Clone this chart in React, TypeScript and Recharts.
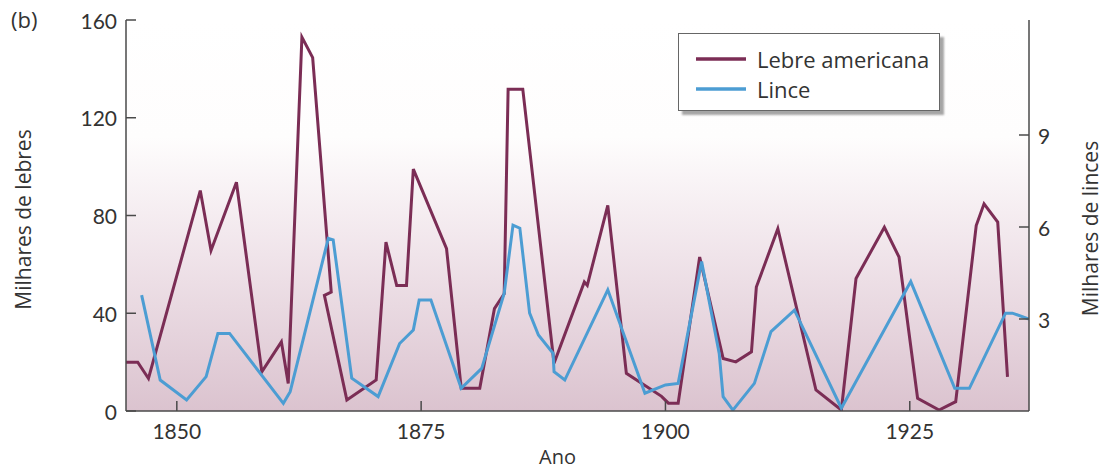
import * as React from 'react'
import { LineChart, Line, XAxis, YAxis, CartesianGrid, Legend, Label } from 'recharts'

// hare counts (thousands)
const hareYears = [
  1844.8, 1846, 1847.1, 1852.4, 1853.5, 1856.1, 1858.7, 1860.7, 1861.4, 1862.8, 1863.9,
  1865.8, 1865.1, 1867.4, 1870.4, 1871.4, 1872.5, 1873.5, 1874.2, 1877.6, 1879.1, 1881,
  1882.5, 1883.5, 1883.9, 1885.4, 1888.6, 1891.7, 1892, 1894.1, 1896, 1899.6, 1900.3,
  1901.3, 1903.5, 1905.9, 1907.2, 1908.8, 1909.3, 1911.5, 1915.4, 1918, 1919.5, 1922.4,
  1923.9, 1925.8, 1928, 1929.7, 1931.8, 1932.6, 1934, 1935,
]
const hareValues = [
  20, 20, 13.3, 90.2, 65.7, 93.6, 16, 28.3, 11.3, 153, 144.6,
  48.7, 47.3, 4.5, 12.7, 69.1, 51.4, 51.4, 99, 66.4, 9.3, 9.3,
  41.9, 48, 131.7, 131.7, 19.5, 52.8, 51.4, 84.1, 15.4, 6, 3.2,
  3.2, 63, 21.5, 20.1, 24.2, 50.7, 74.6, 8.6, 0.4, 54.2, 75.2,
  63, 5.2, 0.4, 3.8, 75.9, 84.8, 77.3, 14,
]

// lynx counts (thousands)
const lynxYears = [
  1846.4, 1848.3, 1851, 1853, 1854.2, 1855.4, 1860.9, 1861.6, 1865.5, 1866, 1867.9,
  1870.6, 1872.8, 1874.2, 1874.8, 1876, 1879.1, 1881.2, 1883.5, 1884.4, 1885.1, 1886.1,
  1887, 1888.5, 1888.6, 1889.7, 1894.1, 1897.9, 1900, 1901.3, 1903.7, 1905.5, 1905.9,
  1906.9, 1909.1, 1910.8, 1913.2, 1918, 1925.1, 1929.6, 1931.1, 1934.8, 1935.5, 1937.2,
]
const lynxValues = [
  3.78, 1.01, 0.36, 1.12, 2.53, 2.53, 0.25, 0.63, 5.63, 5.58, 1.07,
  0.47, 2.2, 2.64, 3.62, 3.62, 0.74, 1.39, 3.84, 6.06, 5.96, 3.19,
  2.48, 1.88, 1.28, 1.01, 3.95, 0.58, 0.85, 0.9, 4.87, 1.88, 0.47,
  0.03, 0.9, 2.59, 3.29, 0.09, 4.22, 0.74, 0.74, 3.19, 3.19, 3.0,
]

const yearTicks = [1850, 1875, 1900, 1925]
const hareTicks = [0, 40, 80, 120, 160]
const lynxTicks = [3, 6, 9]

const hareData = hareYears.map((year, i) => ({ year, value: hareValues[i] }))
const lynxData = lynxYears.map((year, i) => ({ year, value: lynxValues[i] }))

const FONT = 'Lato, "Open Sans", sans-serif'
const TITLE_FONT = '"Open Sans", Lato, sans-serif'
const AXIS = '#4a4a4a'
const TEXT = '#333'
const HARE = '#7b2d55'
const LYNX = '#4c9dd3'

function LeftTick({ x, y, payload }: any) {
  return (
    <g>
      <line x1={x} x2={x + 10} y1={y} y2={y} stroke={AXIS} strokeWidth={1.5} />
      <text x={x - 9} y={y} textAnchor="end" dominantBaseline="central" fontSize={21} fill={TEXT} fontFamily={FONT}>
        {payload.value}
      </text>
    </g>
  )
}

function RightTick({ x, y, payload }: any) {
  return (
    <g>
      <line x1={x - 10} x2={x} y1={y} y2={y} stroke={AXIS} strokeWidth={1.5} />
      <text x={x + 9} y={y} textAnchor="start" dominantBaseline="central" fontSize={21} fill={TEXT} fontFamily={FONT}>
        {payload.value}
      </text>
    </g>
  )
}

function BottomTick({ x, y, payload }: any) {
  return (
    <g>
      <line x1={x} x2={x} y1={y - 10} y2={y} stroke={AXIS} strokeWidth={1.5} />
      <text x={x} y={y + 19} textAnchor="middle" dominantBaseline="central" fontSize={21} fill={TEXT} fontFamily={FONT}>
        {payload.value}
      </text>
    </g>
  )
}

function LegendBox({ payload }: any) {
  return (
    <div
      style={{
        width: 262,
        height: 78,
        background: '#fff',
        border: '1px solid #666',
        boxShadow: '4px 4px 2px rgba(0,0,0,0.35)',
        paddingTop: 10,
        boxSizing: 'border-box',
      }}
    >
      {(payload || []).map((entry: any) => (
        <div key={entry.value} style={{ display: 'flex', alignItems: 'center', height: 30 }}>
          <svg width={78} height={30} style={{ display: 'block' }}>
            <line x1={17} x2={67} y1={15} y2={15} stroke={entry.color} strokeWidth={3.5} />
          </svg>
          <span style={{ fontFamily: TITLE_FONT, fontSize: 22, color: TEXT, lineHeight: '30px' }}>{entry.value}</span>
        </div>
      ))}
    </div>
  )
}

export default function App() {
  return (
    <div style={{ position: 'absolute', left: 0, top: 0, width: 1103, height: 468, background: '#fff', fontFamily: FONT }}>
      <div style={{ position: 'absolute', left: 11, top: 6, fontSize: 22, lineHeight: '26px', color: TEXT, fontFamily: TITLE_FONT }}>(b)</div>
      <LineChart width={1103} height={468} margin={{ top: 20, right: 0, bottom: 0, left: 0 }}>
        <defs>
          <linearGradient id="plotBg" x1="0" y1="0" x2="0" y2="1">
            <stop offset="0%" stopColor="#ffffff" />
            <stop offset="30%" stopColor="#fefdfd" />
            <stop offset="60%" stopColor="#f0e4ea" />
            <stop offset="100%" stopColor="#dbc3cf" />
          </linearGradient>
        </defs>
        <CartesianGrid horizontal={false} vertical={false} fill="url(#plotBg)" />
        <XAxis
          dataKey="year"
          type="number"
          domain={[1844.8, 1937.2]}
          ticks={yearTicks}
          allowDataOverflow
          height={57}
          tickSize={0}
          tickMargin={0}
          tickLine={false}
          axisLine={{ stroke: AXIS, strokeWidth: 1.5 }}
          tick={(props: any) => <BottomTick {...props} />}
        >
          <Label
            content={({ viewBox }: any) => (
              <text
                x={viewBox.x + viewBox.width / 2 - 20}
                y={viewBox.y + 45}
                textAnchor="middle"
                dominantBaseline="central"
                fontSize={20}
                fill={TEXT}
                fontFamily={TITLE_FONT}
              >
                Ano
              </text>
            )}
          />
        </XAxis>
        <YAxis
          yAxisId="hare"
          orientation="left"
          width={126}
          domain={[0, 160]}
          ticks={hareTicks}
          allowDataOverflow
          tickSize={0}
          tickMargin={0}
          tickLine={false}
          axisLine={{ stroke: AXIS, strokeWidth: 1.5 }}
          tick={(props: any) => <LeftTick {...props} />}
        >
          <Label
            content={({ viewBox }: any) => {
              const cx = viewBox.x + 23
              const cy = viewBox.y + viewBox.height / 2 + 4
              return (
                <text
                  x={cx}
                  y={cy}
                  transform={`rotate(-90 ${cx} ${cy})`}
                  textAnchor="middle"
                  dominantBaseline="central"
                  fontSize={21}
                  fill={TEXT}
                  fontFamily={TITLE_FONT}
                >
                  Milhares de lebres
                </text>
              )
            }}
          />
        </YAxis>
        <YAxis
          yAxisId="lynx"
          orientation="right"
          width={74}
          domain={[0, 12.75]}
          ticks={lynxTicks}
          allowDataOverflow
          tickSize={0}
          tickMargin={0}
          tickLine={false}
          axisLine={{ stroke: AXIS, strokeWidth: 1.5 }}
          tick={(props: any) => <RightTick {...props} />}
        >
          <Label
            content={({ viewBox }: any) => {
              const cx = viewBox.x + 61
              const cy = viewBox.y + viewBox.height / 2 + 13
              return (
                <text
                  x={cx}
                  y={cy}
                  transform={`rotate(-90 ${cx} ${cy})`}
                  textAnchor="middle"
                  dominantBaseline="central"
                  fontSize={21}
                  fill={TEXT}
                  fontFamily={TITLE_FONT}
                >
                  Milhares de linces
                </text>
              )
            }}
          />
        </YAxis>
        <Legend
          layout="vertical"
          align="center"
          verticalAlign="middle"
          content={(props: any) => <LegendBox {...props} />}
          wrapperStyle={{ left: 678, top: 33, width: 264, height: 80 }}
        />
        <Line
          yAxisId="hare"
          data={hareData}
          dataKey="value"
          name="Lebre americana"
          type="linear"
          stroke={HARE}
          strokeWidth={3}
          dot={false}
          activeDot={false}
          isAnimationActive={false}
        />
        <Line
          yAxisId="lynx"
          data={lynxData}
          dataKey="value"
          name="Lince"
          type="linear"
          stroke={LYNX}
          strokeWidth={3}
          dot={false}
          activeDot={false}
          isAnimationActive={false}
        />
      </LineChart>
    </div>
  )
}
